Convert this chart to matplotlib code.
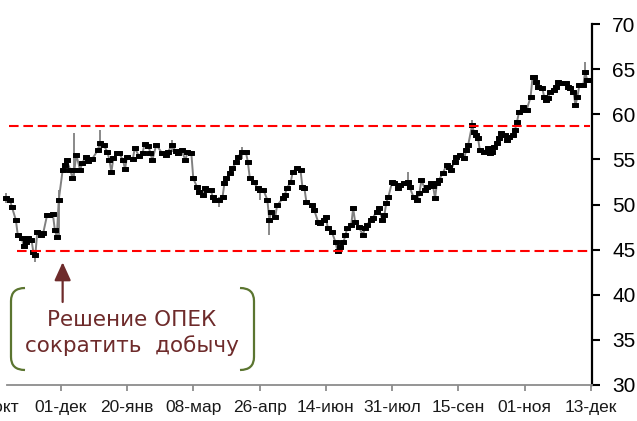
import matplotlib
matplotlib.use("Agg")
import matplotlib.pyplot as plt
from matplotlib import patches, transforms
from matplotlib.path import Path

plt.rcParams['font.family'] = ['Liberation Sans', 'DejaVu Sans']

# bar number (trading day) and close price
bar = [6, 8, 9, 11, 12, 14, 15, 16, 17, 19,
       20, 21, 22, 24, 25, 27, 28, 30, 31, 32,
       33, 35, 36, 37, 39, 40, 41, 42, 44, 45,
       47, 48, 50, 53, 54, 56, 58, 59, 60, 61,
       63, 64, 66, 67, 68, 71, 72, 74, 76, 77,
       79, 80, 81, 83, 86, 88, 89, 91, 93, 94,
       96, 98, 99, 101, 102, 104, 105, 107, 108, 109,
       111, 112, 113, 115, 117, 118, 119, 121, 122, 124,
       125, 127, 129, 130, 131, 133, 135, 136, 138, 140,
       141, 142, 144, 145, 148, 149, 150, 152, 153, 155,
       157, 158, 159, 160, 163, 164, 166, 167, 169, 170,
       171, 173, 175, 176, 177, 179, 180, 181, 183, 184,
       185, 187, 189, 190, 191, 193, 194, 196, 197, 199,
       200, 201, 202, 204, 205, 207, 208, 210, 212, 213,
       215, 217, 218, 219, 221, 222, 224, 225, 226, 227,
       228, 230, 232, 233, 234, 236, 237, 239, 241, 242,
       243, 245, 246, 247, 248, 249, 251, 253, 254, 255,
       256, 258, 259, 260, 262, 263, 264, 266, 267, 268,
       269, 271, 272, 273, 275, 276, 277, 278, 279, 281,
       282, 283, 284, 285, 287, 288, 289, 291, 293, 294,
       295, 297, 298, 299, 300, 302, 303, 304, 305]
close = [50.7, 50.5, 49.7, 48.3, 46.6, 46.3, 45.4, 45.8, 46.3, 46.1,
         44.7, 44.4, 47.0, 46.6, 46.8, 48.8, 48.8, 48.9, 47.2, 46.4,
         50.5, 53.8, 54.4, 54.9, 53.8, 52.9, 53.8, 55.5, 53.8, 54.6,
         55.3, 54.8, 55.0, 56.0, 56.8, 56.6, 55.8, 54.9, 53.6, 55.1,
         55.7, 55.7, 54.9, 53.9, 55.3, 55.0, 56.3, 55.4, 55.7, 56.7,
         56.5, 55.7, 54.9, 56.6, 55.7, 55.5, 55.8, 56.6, 55.9, 55.7,
         56.0, 54.9, 55.8, 55.7, 52.9, 51.9, 51.4, 51.1, 51.8, 51.6,
         51.6, 50.8, 50.5, 50.5, 50.8, 52.4, 52.9, 53.5, 54.0, 54.7,
         55.3, 55.8, 55.8, 54.7, 52.9, 52.5, 51.8, 51.6, 51.6, 50.5,
         48.3, 49.2, 48.6, 49.9, 50.7, 51.1, 51.8, 52.5, 53.6, 54.0,
         53.8, 51.9, 51.8, 50.3, 49.9, 49.4, 48.1, 48.0, 48.3, 48.6,
         47.4, 47.0, 45.8, 44.8, 45.3, 45.8, 46.6, 47.4, 47.7, 49.6,
         48.1, 47.5, 46.6, 47.4, 47.7, 48.3, 48.5, 49.2, 49.6, 48.3,
         48.8, 50.2, 50.8, 52.5, 52.4, 51.8, 52.2, 52.4, 52.5, 51.9,
         50.8, 50.5, 51.3, 52.7, 51.6, 51.9, 52.4, 52.0, 50.7, 52.4,
         52.7, 53.5, 54.4, 54.2, 53.8, 54.7, 55.3, 55.5, 55.2, 56.0,
         56.6, 58.8, 58.0, 57.7, 57.4, 56.0, 55.8, 56.3, 55.7, 55.8,
         56.4, 56.8, 57.4, 57.9, 57.7, 57.1, 57.5, 57.7, 58.3, 59.1,
         60.2, 60.8, 60.5, 60.5, 61.9, 64.1, 64.1, 63.6, 63.0, 62.9,
         61.9, 61.6, 61.8, 62.5, 62.7, 63.0, 63.6, 63.5, 63.5, 63.0,
         62.9, 62.5, 61.0, 61.9, 63.2, 63.2, 64.7, 63.8, 63.8]

# visible high/low wicks
spike_bar = [6, 21, 33, 41, 54, 91, 115, 127, 136, 141, 212, 245, 303]
spike_lo = [50.2, 43.6, 46.4, 53.0, 56.0, 55.8, 49.7, 55.0, 50.5, 46.6, 51.8, 58.0, 63.5]
spike_hi = [51.3, 44.8, 51.6, 57.9, 58.3, 57.2, 50.8, 56.4, 52.0, 48.5, 53.6, 59.4, 65.8]

# support / resistance levels
levels = [58.75, 44.8]
level_start = [7.5, 11.5]
level_end = [305.5, 305.5]

tick_bar = [0, 34, 68, 102, 136, 170, 204, 238, 272, 306]
tick_labels = ['14-окт', '01-дек', '20-янв', '08-мар', '26-апр', '14-июн',
               '31-июл', '15-сен', '01-ноя', '13-дек']

W, H = 637, 421
fig = plt.figure(figsize=(W / 100, H / 100), dpi=100)
# axes placed in pixels: left edge runs past the figure so the first label is cut
ax_left, ax_right, ax_top, ax_bottom = -17.3, 592, 24, 385
ax = fig.add_axes([ax_left / W, 1 - ax_bottom / H,
                   (ax_right - ax_left) / W, (ax_bottom - ax_top) / H])
ax.set_xlim(-6, 306.5)
ax.set_ylim(30, 70)

ax.vlines(spike_bar, spike_lo, spike_hi, color='#808080', lw=1.3, zorder=2)
ax.plot(bar, close, color='#808080', lw=1.4, zorder=2)
rect = [(-1, -0.6), (1, -0.6), (1, 0.6), (-1, 0.6), (-1, -0.6)]
ax.plot(bar, close, ls='none', marker=rect, ms=4.6, mfc='black', mec='black',
        mew=0.7, zorder=3)

ax.hlines(levels, level_start, level_end, colors='#ff0000', lw=1.5,
          linestyles=(0, (4.6, 2.3)), zorder=4)

for s in ['left', 'top']:
    ax.spines[s].set_visible(False)
ax.spines['right'].set_linewidth(1.6)
ax.spines['right'].set_color('black')
ax.spines['bottom'].set_color('#8c8c8c')
ax.spines['bottom'].set_linewidth(1.3)
ax.spines['bottom'].set_bounds(6.5, 306.5)

ax.yaxis.tick_right()
ax.set_yticks(range(30, 71, 5))
ax.tick_params(axis='y', direction='out', length=5.5, width=1.5, pad=9,
               labelsize=15, colors='black')
ax.set_xticks(tick_bar)
ax.set_xticklabels(tick_labels)
ax.tick_params(axis='x', direction='out', length=4, width=1.3, pad=7,
               labelsize=12.5, color='#8c8c8c', labelcolor='#1a1a1a')
ax.patch.set_visible(False)

# annotation: arrow, text and rounded brackets
txt_color = '#6e2b2b'
ax.annotate('', xy=(35, 43.6), xytext=(35, 39.2),
            arrowprops=dict(arrowstyle='-|>,head_length=0.55,head_width=0.25',
                            color=txt_color, lw=1.6, mutation_scale=20,
                            shrinkA=0, shrinkB=0))

fig.text(132 / W, 1 - 333 / H, 'Решение ОПЕК\nсократить  добычу',
         ha='center', va='center', fontsize=15.5, color=txt_color,
         family='DejaVu Sans', linespacing=1.25)

px = transforms.Affine2D().scale(1 / W, -1 / H).translate(0, 1) + fig.transFigure
codes = [Path.MOVETO, Path.CURVE3, Path.CURVE3, Path.LINETO, Path.CURVE3, Path.CURVE3]
for x_end, x_side in [(25, 11), (240, 254)]:
    verts = [(x_end, 288), (x_side, 288), (x_side, 301),
             (x_side, 357), (x_side, 370), (x_end, 370)]
    fig.patches.append(patches.PathPatch(Path(verts, codes), transform=px,
                                         fill=False, ec='#5b7530', lw=1.6))

fig.savefig('out.png', dpi=100)
